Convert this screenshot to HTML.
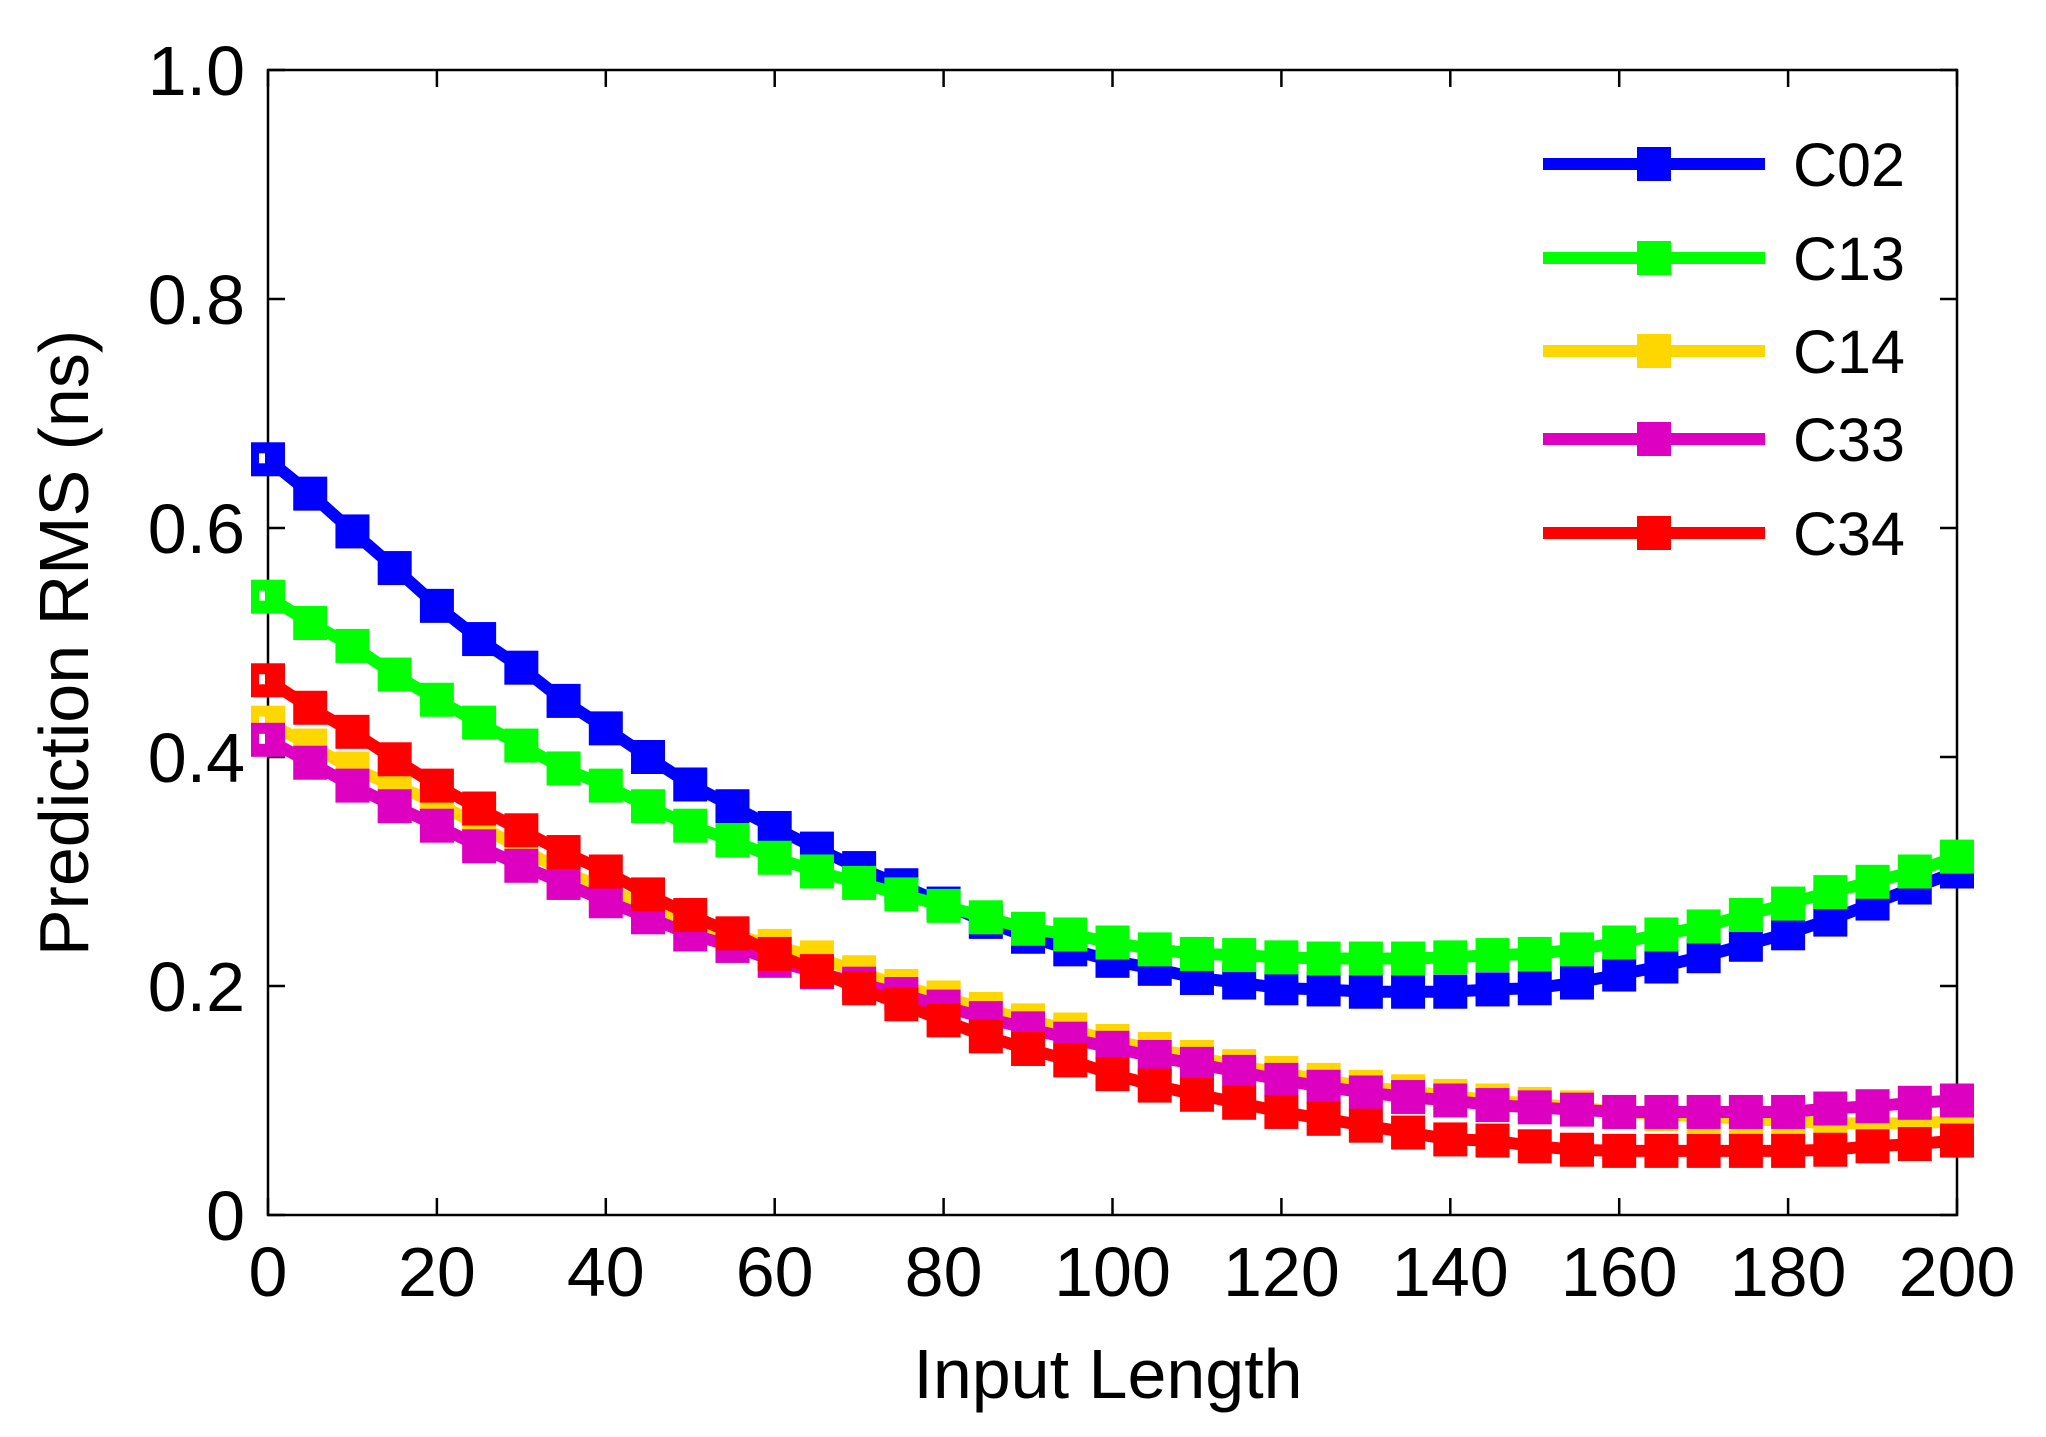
<!DOCTYPE html>
<html><head><meta charset="utf-8"><style>
html,body{margin:0;padding:0;background:#fff;}
svg{display:block;}
text{font-family:"Liberation Sans",sans-serif;fill:#000;}
</style></head><body>
<svg id="s" width="2046" height="1437" viewBox="0 0 2046 1437" xmlns="http://www.w3.org/2000/svg">
<rect width="2046" height="1437" fill="#fff"/>
<g id="axes"></g>
<g id="series"></g>
<g id="legend"></g>
<text x="1108" y="1398" font-size="70" text-anchor="middle">Input Length</text>
<text transform="translate(88,643) rotate(-90)" font-size="70" text-anchor="middle">Prediction RMS (ns)</text>
</svg>
<script>
var NS="http://www.w3.org/2000/svg";
var L=268,R=1957,T=70,B=1215;
function X(v){return L+(R-L)*v/200;}
function Y(v){return B-(B-T)*v;}
function el(p,n,a,t){var e=document.createElementNS(NS,n);for(var k in a)e.setAttribute(k,a[k]);if(t!==undefined)e.textContent=t;p.appendChild(e);return e;}
var ax=document.getElementById('axes');
el(ax,'rect',{x:L,y:T,width:R-L,height:B-T,fill:'none',stroke:'#000','stroke-width':2.5});
for(var i=0;i<=10;i++){var x=X(i*20);
 el(ax,'line',{x1:x,y1:B,x2:x,y2:B-17,stroke:'#000','stroke-width':2.5});
 el(ax,'line',{x1:x,y1:T,x2:x,y2:T+17,stroke:'#000','stroke-width':2.5});
 el(ax,'text',{x:x,y:1296,'font-size':70,'text-anchor':'middle'},String(i*20));}
var yl=['0','0.2','0.4','0.6','0.8','1.0'];
for(var j=0;j<=5;j++){var y=Y(j*0.2);
 el(ax,'line',{x1:L,y1:y,x2:L+17,y2:y,stroke:'#000','stroke-width':2.5});
 el(ax,'line',{x1:R,y1:y,x2:R-17,y2:y,stroke:'#000','stroke-width':2.5});
 el(ax,'text',{x:245,y:y+25,'font-size':70,'text-anchor':'end'},yl[j]);}
var D={
'#0000ff':[0.66,0.63,0.597,0.565,0.532,0.503,0.478,0.449,0.425,0.40,0.376,0.357,0.338,0.32,0.303,0.288,0.272,0.256,0.243,0.232,0.222,0.215,0.207,0.203,0.198,0.197,0.195,0.195,0.195,0.197,0.198,0.203,0.21,0.217,0.226,0.236,0.246,0.258,0.272,0.286,0.30],
'#00ff00':[0.54,0.517,0.497,0.472,0.45,0.43,0.41,0.39,0.375,0.357,0.34,0.327,0.312,0.3,0.29,0.28,0.27,0.26,0.25,0.245,0.238,0.232,0.228,0.227,0.225,0.224,0.224,0.224,0.225,0.227,0.228,0.232,0.238,0.245,0.252,0.262,0.272,0.282,0.291,0.30,0.313],
'#ffd700':[0.43,0.41,0.39,0.375,0.36,0.34,0.32,0.30,0.285,0.27,0.255,0.245,0.235,0.225,0.212,0.2,0.19,0.18,0.17,0.162,0.152,0.145,0.138,0.13,0.124,0.118,0.112,0.108,0.104,0.1,0.097,0.094,0.09,0.088,0.086,0.084,0.082,0.08,0.08,0.08,0.082],
'#dd00c0':[0.415,0.395,0.375,0.357,0.34,0.322,0.305,0.29,0.274,0.26,0.245,0.235,0.222,0.212,0.202,0.193,0.182,0.172,0.163,0.154,0.146,0.138,0.132,0.125,0.118,0.112,0.107,0.103,0.1,0.096,0.094,0.092,0.09,0.09,0.09,0.09,0.09,0.093,0.095,0.098,0.1],
'#ff0000':[0.467,0.443,0.422,0.398,0.375,0.355,0.336,0.317,0.3,0.28,0.262,0.246,0.228,0.213,0.198,0.184,0.17,0.156,0.145,0.135,0.123,0.113,0.105,0.098,0.09,0.084,0.078,0.072,0.066,0.065,0.06,0.057,0.056,0.056,0.056,0.056,0.056,0.057,0.06,0.062,0.065]};
var sg=document.getElementById('series'),lg=document.getElementById('legend');
var names=['C02','C13','C14','C33','C34'],rows=[164,258,351,439,533],k=0;
for(var c in D){var v=D[c],pts=[];
 for(var i=0;i<v.length;i++)pts.push(X(i*5).toFixed(1)+','+Y(v[i]).toFixed(1));
 el(sg,'polyline',{points:pts.join(' '),fill:'none',stroke:c,'stroke-width':12,'stroke-linejoin':'round'});
 for(var i=0;i<v.length;i++)el(sg,'rect',{x:X(i*5)-17,y:Y(v[i])-17,width:34,height:34,fill:c});
 el(sg,'rect',{x:X(0)-9,y:Y(v[0])-6,width:6,height:10,fill:'#fff'});
 var r=rows[k];
 el(lg,'rect',{x:1543,y:r-6,width:222,height:12,fill:c});
 el(lg,'rect',{x:1637,y:r-17,width:34,height:34,fill:c});
 el(lg,'text',{x:1793,y:r+22,'font-size':61},names[k]);
 k++;}
</script>
</body></html>
